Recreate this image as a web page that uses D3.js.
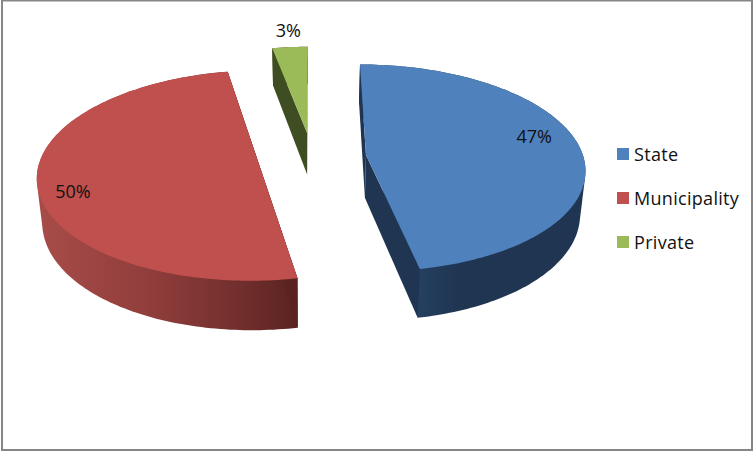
<!DOCTYPE html>
<html>
<head>
<meta charset="utf-8">
<style>html,body{margin:0;padding:0;background:#fff}svg{display:block}text{font-family:"Open Sans",Lato,sans-serif;fill:#111}</style>
<script src="https://cdn.jsdelivr.net/npm/d3@7/dist/d3.min.js"></script>
</head>
<body>
<svg id="c" width="753" height="451"></svg>
<script>
const categories = ["State", "Municipality", "Private"];
const shares = [47, 50, 3];
const labels = ["47%", "50%", "3%"];
const topColors = ["#4f81bd", "#c0504d", "#9bbb59"];
const cutColors = ["#1f3552", "#5a2320", "#3f4d23"];
const rimStops = [
  [[0, "#243f5f"], [0.27, "#243f5f"], [0.45, "#1f3552"], [1, "#1f3552"]],
  [[0, "#a84c49"], [0.45, "#8f3d3b"], [0.75, "#74302e"], [1, "#5a2320"]],
  [[0, "#3f4d23"], [1, "#3f4d23"]]
];

const W = 753, H = 451;
const view = {cx: 312, cy: 157.4, rx: 217.5, ry: 102.4, k: 0.125, depth: 43, explode: 0.25, shrink: 0.02};
const labelPos = [[0.80, -0.19], [-0.81, 0.27], [-0.105, -1.23]];

const svg = d3.select("#c");
svg.append("rect").attr("x", 2).attr("y", 0.5).attr("width", 750).attr("height", 449.5)
  .attr("fill", "#fff").attr("stroke", "#868686").attr("stroke-width", 2);

function project(u, v, z) {
  const w = 1 - view.k * v;
  return [view.cx + view.rx * u * (1 - view.shrink * z) / w, view.cy + (view.ry * v + z * view.depth) / w];
}

const pie = d3.pie().sort(null).value(d => d);
const arcs = pie(shares);
const defs = svg.append("defs");
const line = d3.line();

function sliceGeom(a) {
  const m = (a.startAngle + a.endAngle) / 2;
  const ou = view.explode * Math.sin(m), ov = -view.explode * Math.cos(m);
  const n = Math.max(4, Math.ceil((a.endAngle - a.startAngle) / 0.02));
  const ang = d3.range(n + 1).map(i => a.startAngle + (a.endAngle - a.startAngle) * i / n);
  const rim = z => ang.map(t => project(ou + Math.sin(t), ov - Math.cos(t), z));
  return {ou, ov, rim, apex: z => project(ou, ov, z)};
}

const order = [2, 0, 1];
order.forEach(i => {
  const g = sliceGeom(arcs[i]);
  const top = g.rim(0), bot = g.rim(1);
  const xs = top.map(p => p[0]);
  const gid = "rim" + i;
  const grad = defs.append("linearGradient").attr("id", gid)
    .attr("gradientUnits", "userSpaceOnUse")
    .attr("x1", d3.min(xs)).attr("x2", d3.max(xs)).attr("y1", 0).attr("y2", 0);
  rimStops[i].forEach(s => grad.append("stop").attr("offset", s[0]).attr("stop-color", s[1]));
  const sl = svg.append("g").attr("class", "slice");
  sl.append("path").attr("d", line(d3.polygonHull(top.concat(bot))) + "Z")
    .attr("fill", `url(#${gid})`);
  [top[0], top[top.length - 1]].forEach((p, j) => {
    const q = j ? bot[bot.length - 1] : bot[0];
    sl.append("path").attr("d", line([g.apex(0), g.apex(1), q, p]) + "Z")
      .attr("fill", cutColors[i]);
  });
  sl.append("path").attr("d", line([g.apex(0)].concat(top)) + "Z").attr("fill", topColors[i]);
});

arcs.forEach((a, i) => {
  const g = sliceGeom(a);
  const p = project(g.ou + labelPos[i][0], g.ov + labelPos[i][1], 0);
  svg.append("text").attr("x", p[0]).attr("y", p[1]).attr("text-anchor", "middle")
    .attr("dominant-baseline", "central").attr("font-size", 18).text(labels[i]);
});

const ly = d3.scalePoint().domain(categories).range([154, 242]);
const leg = svg.append("g").selectAll("g").data(categories).join("g")
  .attr("transform", d => `translate(617,${ly(d)})`);
leg.append("rect").attr("x", 0).attr("y", -6).attr("width", 12).attr("height", 12)
  .attr("fill", (d, i) => topColors[i]);
leg.append("text").attr("x", 17).attr("y", -0.5).attr("dominant-baseline", "central")
  .attr("font-size", 18).attr("letter-spacing", 0.3).text(d => d);
</script>
</body>
</html>
